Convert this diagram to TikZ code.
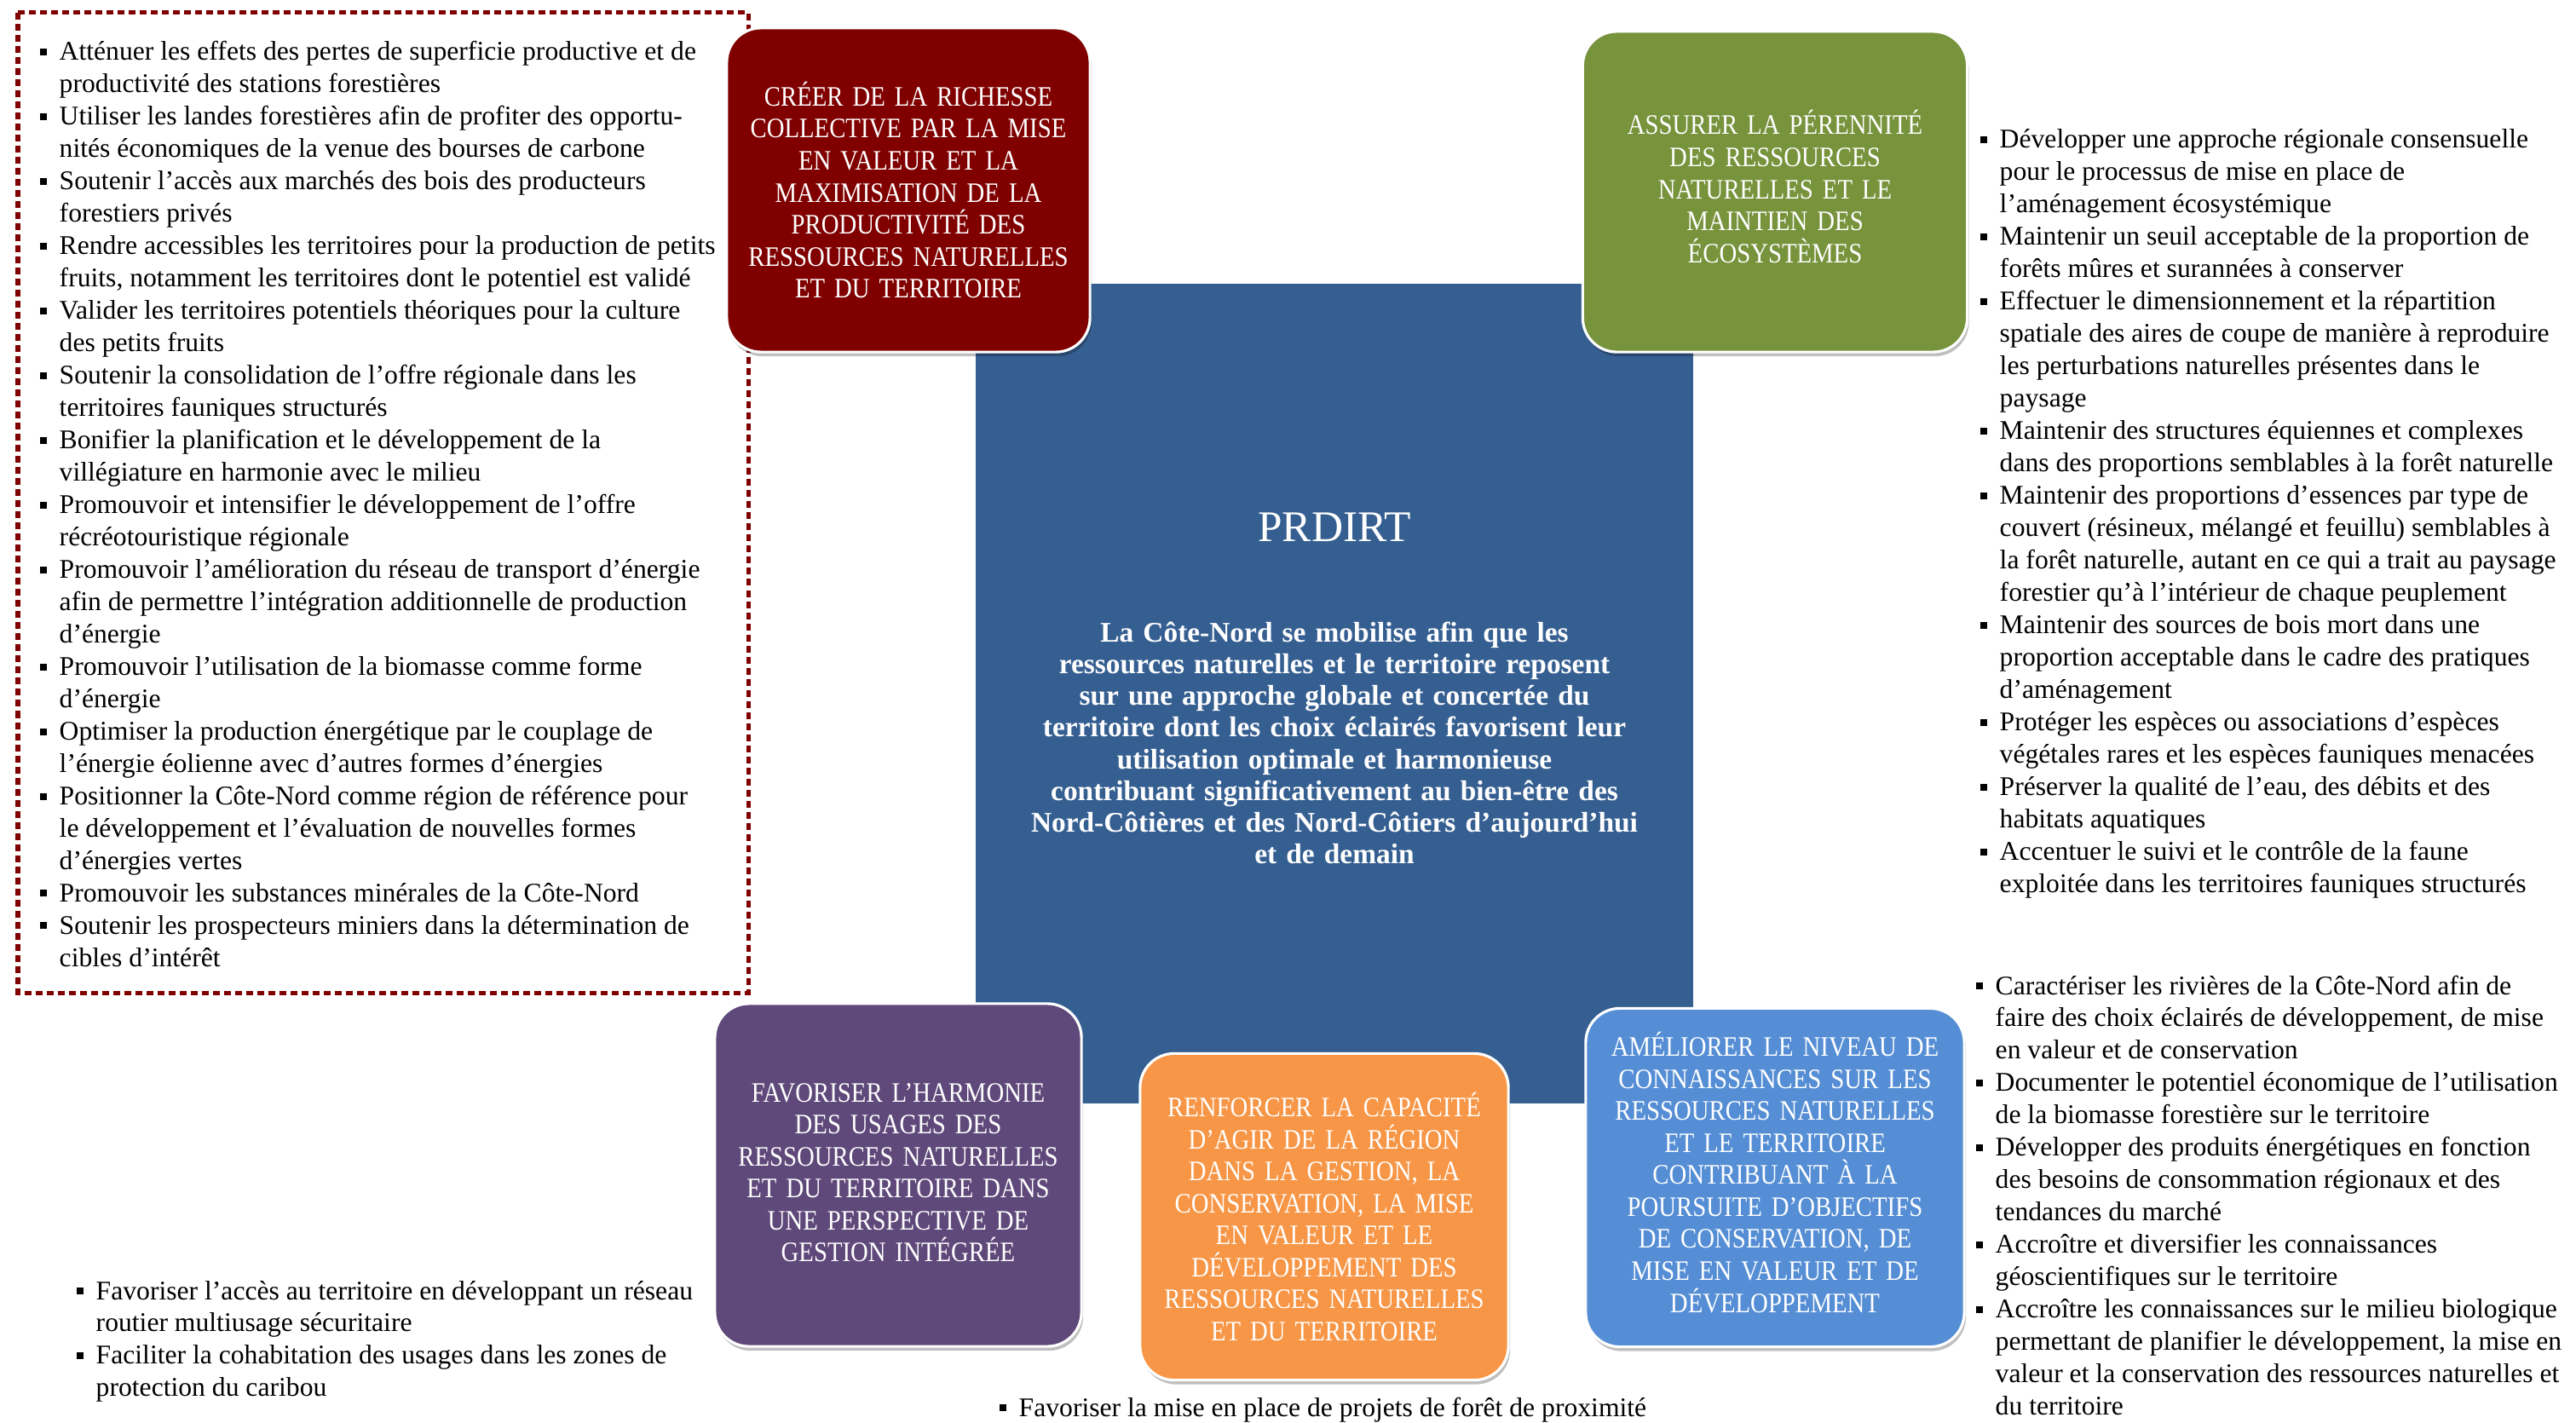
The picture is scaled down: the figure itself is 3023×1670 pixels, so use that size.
\documentclass[tikz,border=0pt]{standalone}
\usepackage{fontspec}
\setmainfont{Liberation Serif}
\newfontfamily\axefamily[FakeStretch=0.87]{Liberation Serif}
\usepackage{tikz}
\usetikzlibrary{shadows}

\definecolor{rouge}{RGB}{128,0,0}
\definecolor{vert}{RGB}{119,147,60}
\definecolor{bleufonce}{RGB}{54,95,145}
\definecolor{violet}{RGB}{95,73,122}
\definecolor{orangeaxe}{RGB}{247,150,70}
\definecolor{bleuclair}{RGB}{85,142,213}

\newcommand{\puce}{\makebox[0.23cm][l]{\raisebox{0.06cm}{\rule{0.08cm}{0.08cm}}}}
\newcommand{\listefont}{\fontsize{9}{10.8}\selectfont}
\newcommand{\axefont}{\axefamily\fontsize{9.4}{10.67}\selectfont}

\tikzstyle{axe} = [rectangle, rounded corners=0.4cm, draw=white, line width=0.9pt, text=white, align=center, inner sep=0pt, font=\axefont, drop shadow={shadow xshift=0.02cm, shadow yshift=-0.05cm, fill=black, opacity=0.25}]
\tikzstyle{liste} = [anchor=base west, inner sep=0pt, font=\listefont]
\tikzstyle{cadre} = [draw=rouge, line width=0.05cm, dash pattern=on 0.08cm off 0.05cm]

\begin{document}
\begin{tikzpicture}[x=0.01cm, y=-0.01cm]
  \useasboundingbox (0,0) rectangle (3023,1670);

  % vision au centre
  \node[fill=bleufonce, minimum width=8.42cm, minimum height=9.62cm, inner sep=0pt] (prdirt) at (1566,814) {};
  \node[text=white, font=\fontsize{14.6}{17}\selectfont, anchor=base, inner sep=0pt] (titre) at (1566,636) {PRDIRT};
  \node[text=white, font=\bfseries\fontsize{9.5}{10.6}\selectfont, text width=7.6cm, align=center, anchor=base, inner sep=0pt] (vision) at (1566,753) {La Côte-Nord se mobilise afin que les\\ressources naturelles et le territoire reposent\\sur une approche globale et concertée du\\territoire dont les choix éclairés favorisent leur\\utilisation optimale et harmonieuse\\contribuant significativement au bien-être des\\Nord-Côtières et des Nord-Côtiers d’aujourd’hui\\et de demain};

  % cadre pointillé des pistes d'action
  \draw[cadre] (21,15) rectangle (878,1165);
  \node[liste] (listeRichesse) at (46,71) {\begin{tabular}[t]{@{}l@{}l@{}}
    \puce & Atténuer les effets des pertes de superficie productive et de\\
          & productivité des stations forestières\\
    \puce & Utiliser les landes forestières afin de profiter des opportu-\\
          & nités économiques de la venue des bourses de carbone\\
    \puce & Soutenir l’accès aux marchés des bois des producteurs\\
          & forestiers privés\\
    \puce & Rendre accessibles les territoires pour la production de petits\\
          & fruits, notamment les territoires dont le potentiel est validé\\
    \puce & Valider les territoires potentiels théoriques pour la culture\\
          & des petits fruits\\
    \puce & Soutenir la consolidation de l’offre régionale dans les\\
          & territoires fauniques structurés\\
    \puce & Bonifier la planification et le développement de la\\
          & villégiature en harmonie avec le milieu\\
    \puce & Promouvoir et intensifier le développement de l’offre\\
          & récréotouristique régionale\\
    \puce & Promouvoir l’amélioration du réseau de transport d’énergie\\
          & afin de permettre l’intégration additionnelle de production\\
          & d’énergie\\
    \puce & Promouvoir l’utilisation de la biomasse comme forme\\
          & d’énergie\\
    \puce & Optimiser la production énergétique par le couplage de\\
          & l’énergie éolienne avec d’autres formes d’énergies\\
    \puce & Positionner la Côte-Nord comme région de référence pour\\
          & le développement et l’évaluation de nouvelles formes\\
          & d’énergies vertes\\
    \puce & Promouvoir les substances minérales de la Côte-Nord\\
    \puce & Soutenir les prospecteurs miniers dans la détermination de\\
          & cibles d’intérêt
  \end{tabular}};

  % les cinq orientations
  \node[axe, fill=rouge, minimum width=4.26cm, minimum height=3.8cm, text width=4.1cm] (richesse) at (1066,223) {CRÉER DE LA RICHESSE\\COLLECTIVE PAR LA MISE\\EN VALEUR ET LA\\MAXIMISATION DE LA\\PRODUCTIVITÉ DES\\RESSOURCES NATURELLES\\ET DU TERRITOIRE};
  \node[axe, fill=vert, minimum width=4.51cm, minimum height=3.76cm, text width=4.3cm] (perennite) at (2083,225) {ASSURER LA PÉRENNITÉ\\DES RESSOURCES\\NATURELLES ET LE\\MAINTIEN DES\\ÉCOSYSTÈMES\par\vspace{0.12cm}};
  \node[axe, fill=violet, minimum width=4.3cm, minimum height=4.02cm, text width=4.1cm] (harmonie) at (1054,1379) {FAVORISER L’HARMONIE\\DES USAGES DES\\RESSOURCES NATURELLES\\ET DU TERRITOIRE DANS\\UNE PERSPECTIVE DE\\GESTION INTÉGRÉE\par\vspace{0.06cm}};
  \node[axe, fill=orangeaxe, minimum width=4.32cm, minimum height=3.83cm, text width=4.15cm] (capacite) at (1554,1428) {RENFORCER LA CAPACITÉ\\D’AGIR DE LA RÉGION\\DANS LA GESTION, LA\\CONSERVATION, LA MISE\\EN VALEUR ET LE\\DÉVELOPPEMENT DES\\RESSOURCES NATURELLES\\ET DU TERRITOIRE};
  \node[axe, fill=bleuclair, minimum width=4.44cm, minimum height=3.97cm, text width=4.25cm] (connaissances) at (2083,1382) {AMÉLIORER LE NIVEAU DE\\CONNAISSANCES SUR LES\\RESSOURCES NATURELLES\\ET LE TERRITOIRE\\CONTRIBUANT À LA\\POURSUITE D’OBJECTIFS\\DE CONSERVATION, DE\\MISE EN VALEUR ET DE\\DÉVELOPPEMENT\par\vspace{0.12cm}};

  \node[liste] (listePerennite) at (2323,174) {\begin{tabular}[t]{@{}l@{}l@{}}
    \puce & Développer une approche régionale consensuelle\\
          & pour le processus de mise en place de\\
          & l’aménagement écosystémique\\
    \puce & Maintenir un seuil acceptable de la proportion de\\
          & forêts mûres et surannées à conserver\\
    \puce & Effectuer le dimensionnement et la répartition\\
          & spatiale des aires de coupe de manière à reproduire\\
          & les perturbations naturelles présentes dans le\\
          & paysage\\
    \puce & Maintenir des structures équiennes et complexes\\
          & dans des proportions semblables à la forêt naturelle\\
    \puce & Maintenir des proportions d’essences par type de\\
          & couvert (résineux, mélangé et feuillu) semblables à\\
          & la forêt naturelle, autant en ce qui a trait au paysage\\
          & forestier qu’à l’intérieur de chaque peuplement\\
    \puce & Maintenir des sources de bois mort dans une\\
          & proportion acceptable dans le cadre des pratiques\\
          & d’aménagement\\
    \puce & Protéger les espèces ou associations d’espèces\\
          & végétales rares et les espèces fauniques menacées\\
    \puce & Préserver la qualité de l’eau, des débits et des\\
          & habitats aquatiques\\
    \puce & Accentuer le suivi et le contrôle de la faune\\
          & exploitée dans les territoires fauniques structurés
  \end{tabular}};

  \node[liste] (listeConnaissances) at (2318,1167) {\begin{tabular}[t]{@{}l@{}l@{}}
    \puce & Caractériser les rivières de la Côte-Nord afin de\\
          & faire des choix éclairés de développement, de mise\\
          & en valeur et de conservation\\
    \puce & Documenter le potentiel économique de l’utilisation\\
          & de la biomasse forestière sur le territoire\\
    \puce & Développer des produits énergétiques en fonction\\
          & des besoins de consommation régionaux et des\\
          & tendances du marché\\
    \puce & Accroître et diversifier les connaissances\\
          & géoscientifiques sur le territoire\\
    \puce & Accroître les connaissances sur le milieu biologique\\
          & permettant de planifier le développement, la mise en\\
          & valeur et la conservation des ressources naturelles et\\
          & du territoire
  \end{tabular}};

  \node[liste] (listeHarmonie) at (89,1525) {\begin{tabular}[t]{@{}l@{}l@{}}
    \puce & Favoriser l’accès au territoire en développant un réseau\\
          & routier multiusage sécuritaire\\
    \puce & Faciliter la cohabitation des usages dans les zones de\\
          & protection du caribou
  \end{tabular}};

  \node[liste] (listeCapacite) at (1172,1662) {\puce Favoriser la mise en place de projets de forêt de proximité};
\end{tikzpicture}
\end{document}
